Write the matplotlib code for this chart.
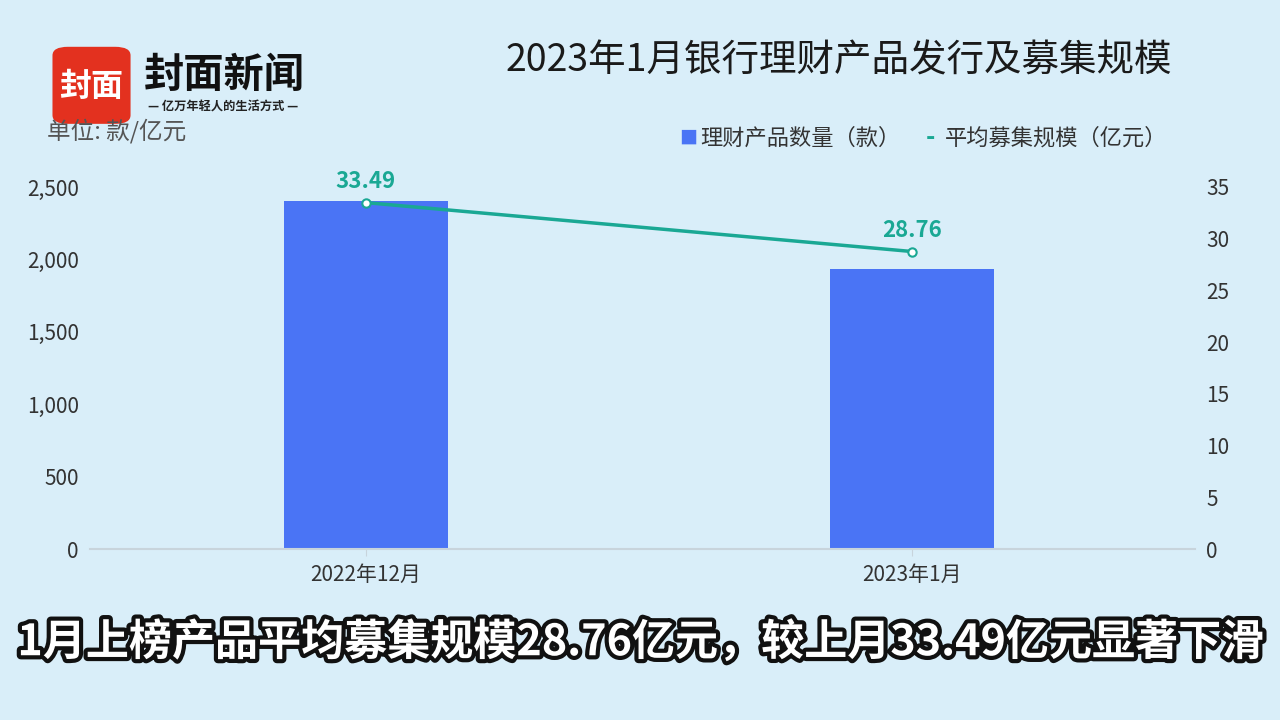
import matplotlib.pyplot as plt
import matplotlib.patheffects as pe
from matplotlib.patches import FancyBboxPatch
import numpy as np

plt.rcParams['font.family'] = ['Noto Sans CJK SC', 'DejaVu Sans']

categories = ['2022年12月', '2023年1月']
product_count = [2403, 1934]
avg_scale = [33.49, 28.76]
left_ticks = [0, 500, 1000, 1500, 2000, 2500]
right_ticks = [0, 5, 10, 15, 20, 25, 30, 35]

bg = '#d9eef9'
bar_color = '#4a74f5'
line_color = '#1aa894'

fig = plt.figure(figsize=(12.8, 7.2), dpi=100, facecolor=bg)
ax = fig.add_axes([0.0703, 0.2375, 0.8633, 0.5028], facecolor=bg)
x = np.arange(len(categories))
ax.bar(x, product_count, width=0.3, color=bar_color, zorder=2)
ax.set_xlim(-0.505, 1.518)
ax.set_ylim(0, 2500)
ax.set_yticks(left_ticks)
ax.set_yticklabels([f'{v:,}' for v in left_ticks], fontsize=15, color='#333333')
ax.set_xticks(x)
ax.set_xticklabels(categories, fontsize=15, color='#333333')
ax.tick_params(axis='y', length=0, pad=8)
ax.tick_params(axis='x', length=5, color='#c8d4dc', pad=6)
for s in ['top', 'right', 'left']:
    ax.spines[s].set_visible(False)
ax.spines['bottom'].set_color('#c8d4dc')
ax.spines['bottom'].set_linewidth(1.5)

ax2 = ax.twinx()
ax2.set_ylim(0, 35)
ax2.set_yticks(right_ticks)
ax2.set_yticklabels([str(v) for v in right_ticks], fontsize=15, color='#333333')
ax2.tick_params(axis='y', length=0, pad=8)
for s in ax2.spines.values():
    s.set_visible(False)
ax2.plot(x, avg_scale, color=line_color, lw=2.5, marker='o', ms=6,
         mfc='white', mec=line_color, mew=1.5, zorder=3)
for xi, v in zip(x, avg_scale):
    ax2.annotate(f'{v:.2f}', (xi, v), xytext=(0, 7), textcoords='offset points',
                 ha='center', va='bottom', fontsize=16, color=line_color,
                 fontweight='bold')

# legend drawn by hand
fig.text(0.531, 0.808, '■', fontsize=13, color=bar_color, va='center', ha='left')
fig.text(0.547, 0.808, '理财产品数量（款）', fontsize=16, color='#333333', va='center')
fig.text(0.723, 0.808, '-', fontsize=18, color=line_color, va='center', fontweight='bold')
fig.text(0.738, 0.808, '平均募集规模（亿元）', fontsize=16, color='#333333', va='center')

# unit label
fig.text(0.037, 0.818, '单位: 款/亿元', fontsize=17, color='#555555', va='center')

# title
fig.text(0.395, 0.915, '2023年1月银行理财产品发行及募集规模', fontsize=27,
         color='#1a1a1a', va='center', ha='left', fontweight='medium')

# logo
logo = FancyBboxPatch((0.041, 0.828), 0.061, 0.107, boxstyle='round,pad=0,rounding_size=0.012',
                      transform=fig.transFigure, facecolor='#e3311f', edgecolor='none')
fig.patches.append(logo)
fig.text(0.0715, 0.879, '封面', fontsize=23, color='white', fontweight='heavy',
         ha='center', va='center')
fig.text(0.112, 0.895, '封面新闻', fontsize=29, color='#111111', fontweight='heavy',
         ha='left', va='center')
fig.text(0.174, 0.851, '— 亿万年轻人的生活方式 —', fontsize=8.8, color='#222222',
         fontweight='bold', ha='center', va='center')

# caption
cap = fig.text(0.5, 0.108, '1月上榜产品平均募集规模28.76亿元，较上月33.49亿元显著下滑',
               fontsize=31, color='white', fontweight='heavy', ha='center', va='center')
cap.set_path_effects([pe.Stroke(linewidth=6, foreground='#111111'), pe.Normal()])

fig.savefig('out.png', dpi=100, facecolor=bg)
